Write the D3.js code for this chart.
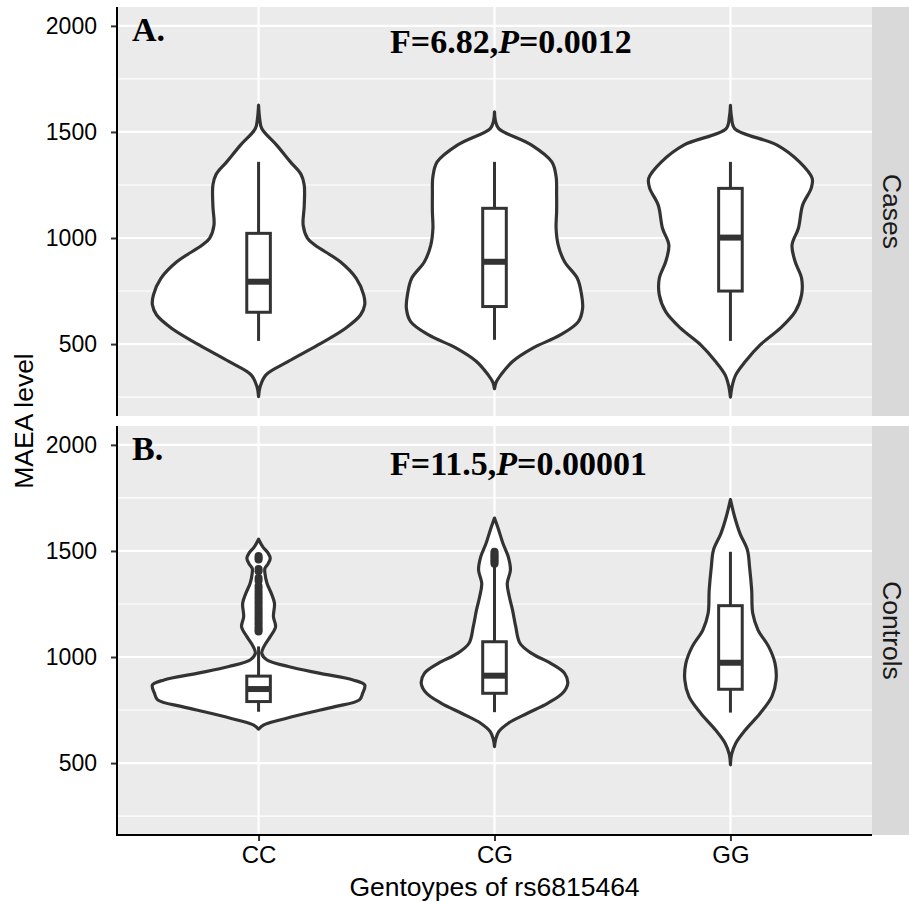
<!DOCTYPE html>
<html>
<head>
<meta charset="utf-8">
<script src="https://cdnjs.cloudflare.com/ajax/libs/d3/7.8.5/d3.min.js"></script>
<style>
body { margin: 0; background: #fff; }
</style>
</head>
<body>
<div id="chart"></div>
<script>
var genotypes = ["CC", "CG", "GG"];
var groups = ["Cases", "Controls"];
var panelTags = ["A.", "B."];
var fValues = ["6.82", "11.5"];
var pValues = ["0.0012", "0.00001"];
var yTicks = [500, 1000, 1500, 2000];
var yMinorTicks = [250, 750, 1250, 1750];

//violin outlines: [MAEA level, relative density]
var casesCC = [[1626,0],[1565,0.01],[1516,0.03],[1438,0.17],[1359,0.30],[1300,0.40],[1250,0.43],[1150,0.43],[1060,0.42],
    [1000,0.46],[967,0.53],[888,0.77],[810,0.92],[732,0.99],[685,1.0],[637,0.96],[575,0.82],[496,0.56],[418,0.28],[355,0.07],[300,0.015],[252,0]];
var casesCG = [[1595,0],[1550,0.01],[1516,0.04],[1438,0.35],[1359,0.54],[1290,0.58],[1202,0.585],[1124,0.585],[1046,0.58],
    [967,0.60],[888,0.66],[810,0.78],[732,0.82],[669,0.83],[606,0.79],[543,0.62],[481,0.36],[418,0.17],[355,0.06],[320,0.015],[290,0]];
var casesGG = [[1625,0],[1570,0.01],[1516,0.04],[1438,0.44],[1359,0.65],[1281,0.77],[1234,0.76],[1155,0.68],[1046,0.64],
    [967,0.58],[888,0.61],[810,0.67],[732,0.67],[653,0.61],[575,0.47],[496,0.28],[418,0.14],[355,0.05],[300,0.015],[250,0]];
var controlsCC = [[1555,0],[1519,0.04],[1490,0.09],[1465,0.11],[1440,0.09],[1418,0.06],[1394,0.06],[1347,0.08],[1300,0.12],
    [1253,0.15],[1190,0.14],[1143,0.16],[1096,0.11],[1049,0.05],[1017,0.03],[986,0.08],[955,0.28],[923,0.58],[892,0.89],
    [868,1.0],[829,0.98],[798,0.95],[766,0.72],[735,0.45],[703,0.2],[680,0.05],[660,0]];
var controlsCG = [[1655,0],[1598,0.04],[1535,0.08],[1472,0.13],[1410,0.15],[1347,0.12],[1284,0.14],[1221,0.17],[1143,0.20],
    [1065,0.24],[1017,0.35],[970,0.53],[923,0.66],[876,0.69],[829,0.64],[782,0.50],[735,0.31],[688,0.13],[648,0.04],[610,0.01],[578,0]];
var controlsGG = [[1742,0],[1660,0.04],[1582,0.09],[1504,0.16],[1425,0.18],[1316,0.20],[1206,0.21],[1127,0.26],[1049,0.36],
    [970,0.42],[892,0.43],[813,0.39],[735,0.28],[656,0.14],[594,0.05],[540,0.01],[492,0]];

//box stats: [lower whisker, q1, median, q3, upper whisker]
var casesBox = [[515,650,794,1022,1359],[520,677,888,1140,1359],[515,750,1002,1234,1359]];
var controlsBox = [[742,790,849,910,1050],[740,829,912,1072,1425],[738,848,973,1242,1496]];

//outliers
var casesOut = [[], [], []];
var controlsOut = [
    [1120,1130,1140,1152,1163,1175,1186,1198,1210,1222,1234,1246,1258,1270,1282,1295,1308,1322,1335,1360,1372,1404,1415,1460,1468,1476],
    [1440,1448,1456,1464,1472,1480,1488,1496],
    []];

var violins = [[casesCC, casesCG, casesGG], [controlsCC, controlsCG, controlsGG]];
var boxes = [casesBox, controlsBox];
var outliers = [casesOut, controlsOut];

var w = 909, h = 901;
var left = 117, right = 872;
var panelTop = [7, 426], panelBottom = [416, 835];
var ink = "#333333";
var sans = "'Liberation Sans', Arial, sans-serif";
var serif = "'Liberation Serif', 'Times New Roman', serif";

var svg = d3.select("#chart").append("svg")
    .attr("width", w).attr("height", h);

var xScale = d3.scalePoint()
    .domain(genotypes)
    .range([left, right])
    .padding(0.6);

var wScale = d3.scaleLinear().domain([0, 1]).range([0, 0.45 * xScale.step()]);
var boxHalf = 0.05 * xScale.step();

groups.forEach(function(g, i){
    var yScale = d3.scaleLinear()
        .domain([161, 2089])
        .range([panelBottom[i], panelTop[i]]);

    var panel = svg.append("g").attr("class", "panel");

    panel.append("rect")
        .attr("x", left).attr("y", panelTop[i])
        .attr("width", right - left).attr("height", panelBottom[i] - panelTop[i])
        .attr("fill", "#ebebeb");

    panel.selectAll(".minor").data(yMinorTicks).enter().append("line")
        .attr("x1", left).attr("x2", right)
        .attr("y1", function(d){ return yScale(d); })
        .attr("y2", function(d){ return yScale(d); })
        .attr("stroke", "#fff").attr("stroke-width", 1.1);

    panel.selectAll(".major").data(yTicks).enter().append("line")
        .attr("x1", left).attr("x2", right)
        .attr("y1", function(d){ return yScale(d); })
        .attr("y2", function(d){ return yScale(d); })
        .attr("stroke", "#fff").attr("stroke-width", 2.2);

    panel.selectAll(".vmajor").data(genotypes).enter().append("line")
        .attr("x1", function(d){ return xScale(d); })
        .attr("x2", function(d){ return xScale(d); })
        .attr("y1", panelTop[i]).attr("y2", panelBottom[i])
        .attr("stroke", "#fff").attr("stroke-width", 2.2);

    //violins
    genotypes.forEach(function(gt, j){
        var cx = xScale(gt);
        var pts = violins[i][j].slice().sort(function(a, b){ return b[0] - a[0]; });
        var area = d3.area()
            .curve(d3.curveCatmullRom.alpha(0.5))
            .y(function(d){ return yScale(d[0]); })
            .x0(function(d){ return cx - wScale(d[1]); })
            .x1(function(d){ return cx + wScale(d[1]); });
        panel.append("path")
            .datum(pts)
            .attr("d", area)
            .attr("fill", "#fff")
            .attr("stroke", ink)
            .attr("stroke-width", 3.2)
            .attr("stroke-linejoin", "round");

        var b = boxes[i][j];
        panel.append("line")
            .attr("x1", cx).attr("x2", cx)
            .attr("y1", yScale(b[0])).attr("y2", yScale(b[4]))
            .attr("stroke", ink).attr("stroke-width", 3);
        panel.append("rect")
            .attr("x", cx - boxHalf).attr("width", 2 * boxHalf)
            .attr("y", yScale(b[3])).attr("height", yScale(b[1]) - yScale(b[3]))
            .attr("fill", "#fff").attr("stroke", ink).attr("stroke-width", 3);
        panel.append("line")
            .attr("x1", cx - boxHalf).attr("x2", cx + boxHalf)
            .attr("y1", yScale(b[2])).attr("y2", yScale(b[2]))
            .attr("stroke", ink).attr("stroke-width", 6);

        panel.selectAll(".out" + j).data(outliers[i][j]).enter().append("circle")
            .attr("cx", cx)
            .attr("cy", function(d){ return yScale(d); })
            .attr("r", 4)
            .attr("fill", ink);
    });

    //panel tag and F statistic
    panel.append("text")
        .attr("x", 132).attr("y", yScale(1928))
        .style("font-family", serif).style("font-weight", "bold").style("font-size", "34px")
        .attr("fill", "#000")
        .text(panelTags[i]);

    var stat = panel.append("text")
        .attr("x", 390).attr("y", yScale(i == 0 ? 1870 : 1859))
        .style("font-family", serif).style("font-weight", "bold").style("font-size", "34px")
        .attr("fill", "#000");
    stat.append("tspan").text("F=" + fValues[i] + ",");
    stat.append("tspan").style("font-style", "italic").text("P");
    stat.append("tspan").text("=" + pValues[i]);

    //strip
    panel.append("rect")
        .attr("x", right).attr("y", panelTop[i])
        .attr("width", w - right).attr("height", panelBottom[i] - panelTop[i])
        .attr("fill", "#d9d9d9");
    panel.append("text")
        .attr("transform", "translate(" + 892.5 + "," + (panelTop[i] + panelBottom[i]) / 2 + ") rotate(90)")
        .attr("text-anchor", "middle")
        .attr("dy", "0.36em")
        .style("font-family", sans).style("font-size", "26.5px")
        .attr("fill", "#1a1a1a")
        .text(g);

    //y axis
    var yAxis = d3.axisLeft(yScale).tickValues(yTicks).tickFormat(d3.format("d")).tickSize(6).tickPadding(14);
    var ga = svg.append("g")
        .attr("class", "y-axis")
        .attr("transform", "translate(" + left + ",0)")
        .call(yAxis);
    ga.select(".domain").remove();
    ga.selectAll(".tick line").attr("stroke", ink).attr("stroke-width", 2);
    ga.selectAll(".tick text")
        .style("font-family", sans).style("font-size", "23px").attr("fill", "#000");
    svg.append("line")
        .attr("x1", left).attr("x2", left)
        .attr("y1", panelTop[i]).attr("y2", panelBottom[i])
        .attr("stroke", "#000").attr("stroke-width", 2);

    if (i == 1) {
        var xAxis = d3.axisBottom(xScale).tickSize(6).tickPadding(5);
        var gx = svg.append("g")
            .attr("class", "x-axis")
            .attr("transform", "translate(0," + panelBottom[i] + ")")
            .call(xAxis);
        gx.select(".domain").remove();
        gx.selectAll(".tick line").attr("stroke", ink).attr("stroke-width", 2);
        gx.selectAll(".tick text")
            .style("font-family", sans).style("font-size", "24px").attr("fill", "#000");
        svg.append("line")
            .attr("x1", left - 1).attr("x2", right)
            .attr("y1", panelBottom[i]).attr("y2", panelBottom[i])
            .attr("stroke", "#000").attr("stroke-width", 2);
    }
});

//axis titles
svg.append("text")
    .attr("x", (left + right) / 2).attr("y", 896)
    .attr("text-anchor", "middle")
    .style("font-family", sans).style("font-size", "26.5px")
    .attr("fill", "#000")
    .text("Gentoypes of rs6815464");

svg.append("text")
    .attr("transform", "translate(33," + (panelTop[0] + panelBottom[1]) / 2 + ") rotate(-90)")
    .attr("text-anchor", "middle")
    .style("font-family", sans).style("font-size", "26.5px")
    .attr("fill", "#000")
    .text("MAEA level");
</script>
</body>
</html>
